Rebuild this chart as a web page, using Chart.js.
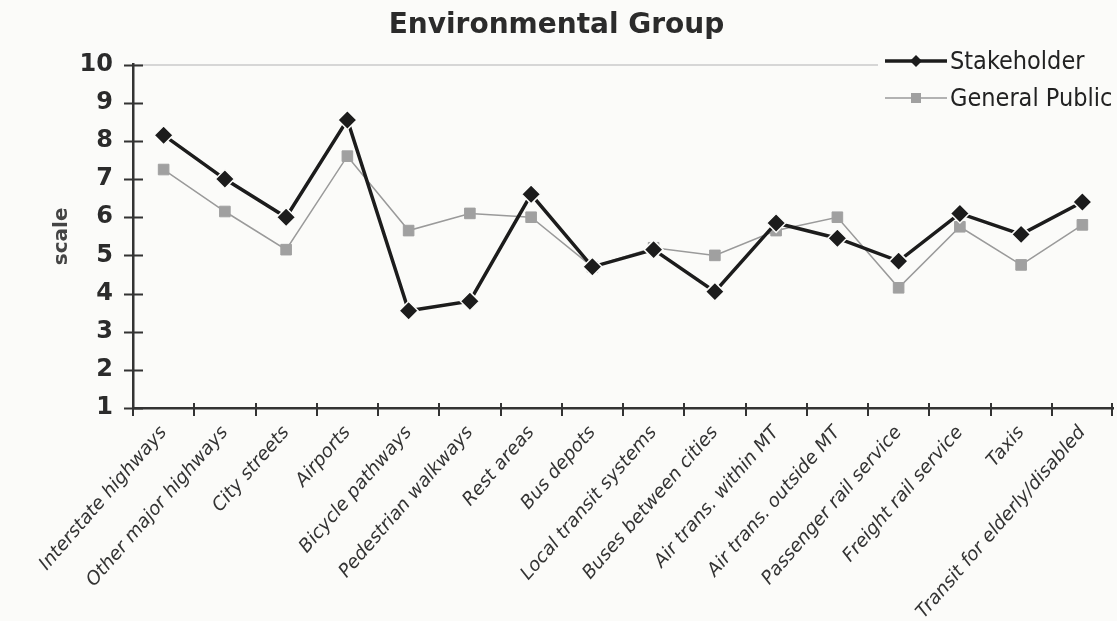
<!DOCTYPE html>
<html>
<head>
<meta charset="utf-8">
<script src="https://cdn.jsdelivr.net/npm/chart.js@4.4.1/dist/chart.umd.min.js"></script>
<style>
  html, body { margin: 0; padding: 0; background: #fbfbf9; }
  #wrap { width: 1117px; height: 621px; }
</style>
</head>
<body>
<div id="wrap"><canvas id="envChart" width="1117" height="621"></canvas></div>
<script>
const categories = [
    'Interstate highways', 'Other major highways', 'City streets', 'Airports',
    'Bicycle pathways', 'Pedestrian walkways', 'Rest areas', 'Bus depots',
    'Local transit systems', 'Buses between cities', 'Air trans. within MT',
    'Air trans. outside MT', 'Passenger rail service', 'Freight rail service',
    'Taxis', 'Transit for elderly/disabled'
];
const stakeholder = [8.15, 7.0, 6.0, 8.55, 3.55, 3.8, 6.6, 4.7, 5.15, 4.05, 5.85, 5.45, 4.85, 6.1, 5.55, 6.4];
const generalPublic = [7.25, 6.15, 5.15, 7.6, 5.65, 6.1, 6.0, 4.7, 5.2, 5.0, 5.65, 6.0, 4.15, 5.75, 4.75, 5.8];
const yTicks = [1, 2, 3, 4, 5, 6, 7, 8, 9, 10];

const BG = '#fbfbf9';
const INK = '#2b2b2b';

// page background + tick marks that cross the axis lines
const axisMarks = {
    id: 'axisMarks',
    beforeDraw(chart) {
        const { ctx } = chart;
        ctx.save();
        ctx.fillStyle = BG;
        ctx.fillRect(0, 0, chart.width, chart.height);
        ctx.restore();
    },
    afterDatasetsDraw(chart) {
        const { ctx, chartArea } = chart;
        const x = chart.scales.x, y = chart.scales.y;
        ctx.save();
        ctx.strokeStyle = '#333';
        ctx.lineWidth = 2;
        ctx.beginPath();
        yTicks.forEach(v => {
            const py = Math.round(y.getPixelForValue(v)) + 0.5;
            ctx.moveTo(chartArea.left - 9, py);
            ctx.lineTo(chartArea.left + 10, py);
        });
        for (let i = 0; i <= categories.length; i++) {
            const px = Math.min(Math.round(x.getPixelForValue(i - 0.5)), chartArea.right - 1);
            ctx.moveTo(px, chartArea.bottom - 5);
            ctx.lineTo(px, chartArea.bottom + 8);
        }
        ctx.stroke();
        ctx.restore();
    }
};

// legend in the top right corner, over the top edge of the plot
const cornerLegend = {
    id: 'cornerLegend',
    afterDraw(chart) {
        const { ctx } = chart;
        const x0 = 885, x1 = 947, xm = 916, tx = 950;
        ctx.save();
        ctx.fillStyle = BG;
        ctx.fillRect(878, 44, 239, 74);

        ctx.strokeStyle = '#1c1c1c';
        ctx.lineWidth = 3.5;
        ctx.beginPath(); ctx.moveTo(x0, 61); ctx.lineTo(x1, 61); ctx.stroke();
        ctx.fillStyle = '#1c1c1c';
        ctx.beginPath();
        ctx.moveTo(xm, 55); ctx.lineTo(xm + 6, 61); ctx.lineTo(xm, 67); ctx.lineTo(xm - 6, 61);
        ctx.closePath(); ctx.fill();

        ctx.strokeStyle = '#9a9a9a';
        ctx.lineWidth = 1.5;
        ctx.beginPath(); ctx.moveTo(x0, 98); ctx.lineTo(x1, 98); ctx.stroke();
        ctx.fillStyle = '#a0a0a0';
        ctx.fillRect(xm - 5, 93, 10, 10);

        ctx.fillStyle = '#222';
        ctx.font = '25px "DejaVu Sans Condensed", "Liberation Sans Narrow", "DejaVu Sans"';
        ctx.textBaseline = 'middle';
        ctx.textAlign = 'left';
        ctx.fillText('Stakeholder', tx, 62);
        ctx.fillText('General Public', tx, 99);
        ctx.restore();
    }
};

new Chart(document.getElementById('envChart'), {
    type: 'line',
    data: {
        labels: categories,
        datasets: [{
            label: 'Stakeholder',
            data: stakeholder,
            borderColor: '#1c1c1c',
            backgroundColor: '#1c1c1c',
            borderWidth: 3.5,
            pointStyle: 'rectRot',
            pointRadius: 9.5,
            pointBorderColor: BG,
            pointBorderWidth: 1.5,
            tension: 0
        }, {
            label: 'General Public',
            data: generalPublic,
            borderColor: '#9a9a9a',
            backgroundColor: '#a0a0a0',
            borderWidth: 1.5,
            pointStyle: 'rect',
            pointRadius: 7.5,
            pointBorderColor: '#a0a0a0',
            pointBorderWidth: 1,
            tension: 0
        }]
    },
    options: {
        responsive: false,
        animation: false,
        layout: { autoPadding: false, padding: { left: 0, right: 4, top: 0, bottom: 0 } },
        plugins: {
            legend: { display: false },
            tooltip: { enabled: false },
            title: {
                display: true,
                text: 'Environmental Group',
                color: INK,
                font: { family: 'DejaVu Sans', size: 28, weight: 'bold' },
                padding: { top: 9, bottom: 22 }
            }
        },
        scales: {
            x: {
                offset: true,
                grid: { display: false, drawTicks: false },
                border: { color: '#333', width: 2.5 },
                ticks: {
                    color: '#333',
                    font: { family: 'DejaVu Sans', size: 18.5, style: 'italic' },
                    minRotation: 49,
                    maxRotation: 49,
                    autoSkip: false,
                    padding: 14
                },
                afterFit(scale) {
                    scale.height = 213;
                    scale.paddingRight = 0;
                }
            },
            y: {
                min: 1,
                max: 10,
                grid: {
                    drawTicks: false,
                    color: ctx => ctx.tick && ctx.tick.value === 10 ? '#d6d6d6' : 'rgba(0,0,0,0)',
                    lineWidth: 2
                },
                border: { color: '#333', width: 2.5 },
                ticks: {
                    stepSize: 1,
                    color: INK,
                    padding: 20,
                    font: { family: 'DejaVu Sans', size: 24, weight: 'bold' }
                },
                title: {
                    display: true,
                    text: 'scale',
                    color: '#444',
                    font: { family: 'DejaVu Sans', size: 20, weight: 'bold' },
                    padding: { top: 50, bottom: 0 }
                },
                afterFit(scale) { scale.width = 133; }
            }
        }
    },
    plugins: [axisMarks, cornerLegend]
});
</script>
</body>
</html>
